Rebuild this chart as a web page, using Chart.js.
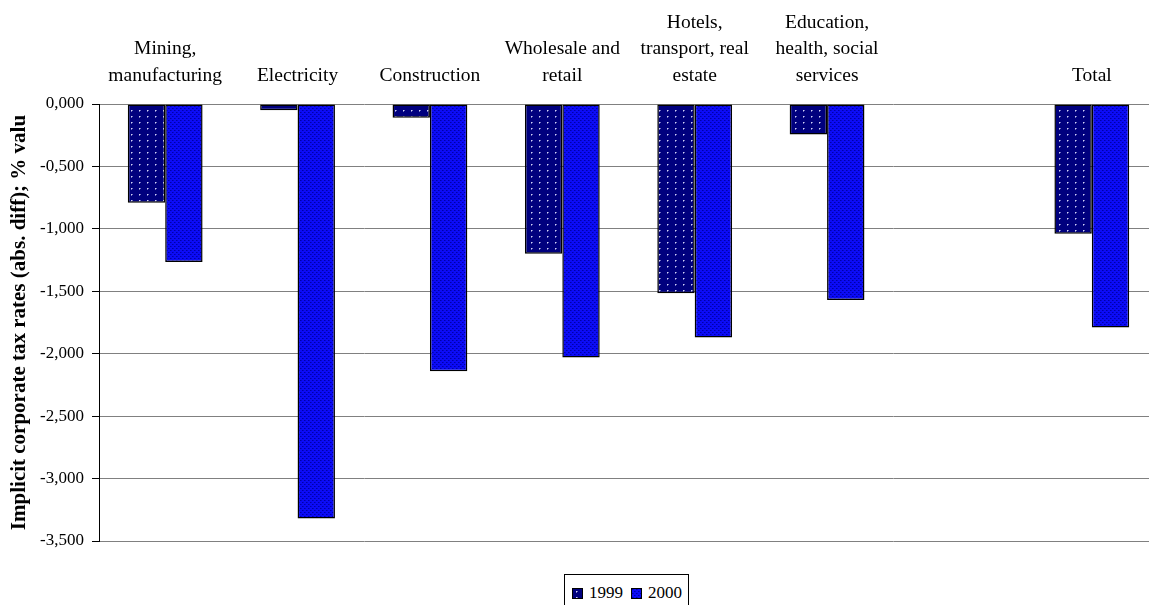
<!DOCTYPE html>
<html>
<head>
<meta charset="utf-8">
<script src="https://cdn.jsdelivr.net/npm/chart.js@4.4.1/dist/chart.umd.min.js"></script>
<style>
  html, body { margin: 0; padding: 0; background: #fff; overflow: hidden; }
  #wrap { position: relative; width: 1162px; height: 605px; }
  #legend {
    position: absolute; left: 564px; top: 574px; height: 40px;
    border: 1px solid #000; background: #fff;
    font-family: "Liberation Serif", "Times New Roman", serif; font-size: 17px; color: #000;
    display: flex; align-items: flex-start; padding: 8px 6px 0 7px; box-sizing: border-box;
  }
  #legend .item { display: flex; align-items: center; margin-right: 8px; }
  #legend .item:last-child { margin-right: 0; }
  #legend canvas { width: 9px; height: 9px; border: 1px solid #000; margin-right: 6px; display: block; }
</style>
</head>
<body>
<div id="wrap">
  <canvas id="c" width="1162" height="605"></canvas>
  <div id="legend"></div>
</div>
<script>
// Sectors (top axis), series values and y-axis ticks
const categories = [
  ['Mining,', 'manufacturing'],
  'Electricity',
  'Construction',
  ['Wholesale and', 'retail'],
  ['Hotels,', 'transport, real', 'estate'],
  ['Education,', 'health, social', 'services'],
  '',
  'Total'
];
const seriesNames = ['1999', '2000'];
const values1999 = [-0.79, -0.05, -0.11, -1.20, -1.515, -0.245, null, -1.04];
const values2000 = [-1.265, -3.32, -2.14, -2.03, -1.87, -1.57, null, -1.79];
const yMin = -3.5, yMax = 0, yStep = 0.5;
const yTitle = 'Implicit corporate tax rates (abs. diff); % valu';

const SERIF = '"Liberation Serif", "Times New Roman", serif';

// Small repeating tiles for the two bar fills
function dottedTile() {
  const t = document.createElement('canvas');
  t.width = 8; t.height = 6;
  const g = t.getContext('2d');
  g.fillStyle = '#00007e'; g.fillRect(0, 0, 8, 6);
  g.fillStyle = '#d0d0f4'; g.fillRect(3, 2, 1, 1);
  g.fillStyle = '#7070c0'; g.fillRect(4, 2, 1, 1); g.fillRect(3, 3, 1, 1);
  return t;
}
function meshTile() {
  const t = document.createElement('canvas');
  t.width = 4; t.height = 4;
  const g = t.getContext('2d');
  g.fillStyle = '#0c0cf6'; g.fillRect(0, 0, 4, 4);
  g.fillStyle = '#0000a8'; g.fillRect(0, 0, 1, 1); g.fillRect(2, 2, 1, 1);
  g.fillStyle = '#0404d0'; g.fillRect(1, 0, 1, 1); g.fillRect(3, 2, 1, 1);
  return t;
}

const ctx = document.getElementById('c').getContext('2d');
const fill1999 = ctx.createPattern(dottedTile(), 'repeat');
const fill2000 = ctx.createPattern(meshTile(), 'repeat');

const fmt = v => v.toFixed(3).replace('.', ',');

new Chart(ctx, {
  type: 'bar',
  data: {
    labels: categories,
    datasets: [
      { label: seriesNames[0], data: values1999, backgroundColor: fill1999,
        borderColor: '#000', borderWidth: 1.5, borderSkipped: false },
      { label: seriesNames[1], data: values2000, backgroundColor: fill2000,
        borderColor: '#000', borderWidth: 1.5, borderSkipped: false }
    ]
  },
  options: {
    responsive: false,
    animation: false,
    layout: { padding: { left: 0, right: 4, top: 0, bottom: 64 } },
    datasets: { bar: { barPercentage: 1.0, categoryPercentage: 0.565 } },
    plugins: { legend: { display: false }, tooltip: { enabled: false } },
    scales: {
      x: {
        position: 'top',
        grid: { display: false, drawTicks: false },
        border: { display: false },
        ticks: {
          color: '#000', maxRotation: 0, autoSkip: false, padding: 15,
          font: { family: SERIF, size: 19.5, lineHeight: 1.36 }
        },
        afterFit: s => { s.height = 104; }
      },
      y: {
        min: yMin, max: yMax,
        grid: { color: '#808080', lineWidth: 1, tickLength: 7, tickColor: '#000' },
        border: { display: true, color: '#000', width: 1 },
        ticks: {
          stepSize: yStep, color: '#000', padding: 8,
          font: { family: SERIF, size: 17 },
          callback: v => fmt(v)
        },
        title: {
          display: true, text: yTitle, color: '#000',
          font: { family: SERIF, size: 21, weight: 'bold' },
          padding: { top: 7, bottom: 0 }
        },
        afterFit: s => { s.width = 99; }
      }
    }
  }
});

// Legend box with the same fills as the bars
const legend = document.getElementById('legend');
[dottedTile(), meshTile()].forEach((tile, i) => {
  const item = document.createElement('div');
  item.className = 'item';
  const sw = document.createElement('canvas');
  sw.width = 9; sw.height = 9;
  const g = sw.getContext('2d');
  g.fillStyle = g.createPattern(tile, 'repeat');
  g.fillRect(0, 0, 9, 9);
  const txt = document.createElement('span');
  txt.textContent = seriesNames[i];
  item.appendChild(sw); item.appendChild(txt);
  legend.appendChild(item);
});
</script>
</body>
</html>
